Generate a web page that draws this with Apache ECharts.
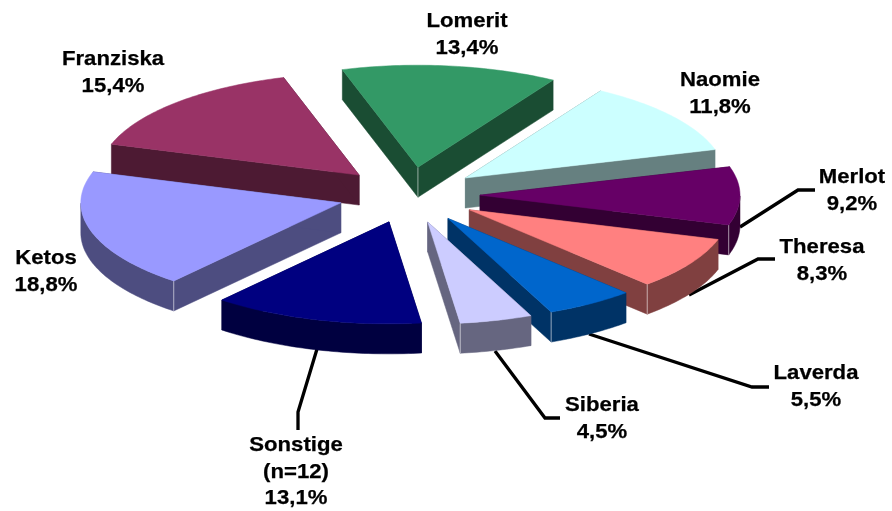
<!DOCTYPE html>
<html><head><meta charset="utf-8">
<style>html,body{margin:0;padding:0;background:#fff}#c{width:892px;height:511px}</style>
<script src="https://cdn.jsdelivr.net/npm/echarts@6/dist/echarts.min.js"></script>
</head><body><div id="c"></div>
<script>
const categories = ['Lomerit','Naomie','Merlot','Theresa','Laverda','Siberia','Sonstige\n(n=12)','Ketos','Franziska'];
const values = [13.4,11.8,9.2,8.3,5.5,4.5,13.1,18.8,15.4];
const topColors = ['#339966','#CCFFFF','#660066','#FF8080','#0066CC','#CCCCFF','#000080','#9999FF','#993366'];
const wallColors = ['#1A4D33','#668080','#330033','#804040','#003366','#666680','#000040','#4D4D80','#4D1A33'];
const drawOrder = [0,8,1,7,2,3,4,5,6];
const labelCenters = [[467,35],[720,94],[852,191],[822,261],[816,387],[602,419],[296,472],[46,272],[113,73]];
const leaders = [null,null,[[740,227],[798,190],[815,190]],[[689,295],[758,259],[775,259]],[[589,334],[752,387],[769,387]],[[495,351],[545,418],[560,418]],[[317,349],[298,412],[298,430]],null,null];

const view = {cx:409, cy:195, rx:260, ry:102, ex:71, ey:28, depth:30, start:-16.9};
const total = values.reduce((a,b)=>a+b,0);
const rad = d => d*Math.PI/180;
const starts = []; values.reduce((acc,v,i)=>{starts[i]=acc; return acc+v/total*360;}, view.start);

function renderSlice(params, api){
  const i = api.value(1);
  const a0 = starts[i], a1 = a0 + api.value(0)/total*360, m = (a0+a1)/2;
  const ax = view.cx + view.ex*Math.sin(rad(m)), ay = view.cy - view.ey*Math.cos(rad(m));
  const pt = t => [ax + view.rx*Math.sin(rad(t)), ay - view.ry*Math.cos(rad(t))];
  const d = view.depth, down = p => [p[0], p[1]+d];
  const arc = [];
  const steps = Math.max(8, Math.ceil(a1-a0));
  for(let k=0;k<=steps;k++) arc.push(pt(a0+(a1-a0)*k/steps));
  const p0 = arc[0], p1 = arc[arc.length-1], apex = [ax,ay];
  const poly = (points, fill, stroke) => ({type:'polygon', shape:{points}, style:{fill, stroke:stroke||fill, lineWidth:0.5}});
  const seam = p => ({type:'line', shape:{x1:p[0],y1:p[1],x2:p[0],y2:p[1]+d}, style:{stroke:'rgba(255,255,255,0.55)', lineWidth:1}});
  const children = [];
  if(leaders[i]) children.push({type:'polyline', shape:{points:leaders[i]}, style:{stroke:'#000', lineWidth:3.3, fill:null}});
  const wall = wallColors[i];
  children.push(poly([apex,p0,down(p0),down(apex)], wall));
  children.push(poly([apex,p1,down(p1),down(apex)], wall));
  const rimPts = arc.filter((p,k)=>{const t=a0+(a1-a0)*k/steps; return t>=90 && t<=270;});
  if(rimPts.length>1) children.push(poly(rimPts.concat(rimPts.map(down).reverse()), wall));
  if(a1<180 && a1>90) children.push(seam(p1));
  if(a0>180 && a0<270) children.push(seam(p0));
  if(a0<0 && a1>0) children.push(seam(apex));
  children.push(poly([apex].concat(arc), topColors[i]));
  const text = categories[i] + '\n' + values[i].toFixed(1).replace('.',',') + '%';
  children.push({type:'text', x:labelCenters[i][0], y:labelCenters[i][1], scaleX:1.08, z2:100,
    style:{text, font:'bold 20.5px "Liberation Sans", Arial, sans-serif', lineHeight:26.5, fill:'#000', stroke:'#000', lineWidth:0.25, align:'center', verticalAlign:'middle'}});
  return {type:'group', children};
}

const chart = echarts.init(document.getElementById('c'), null, {renderer:'canvas'});
chart.setOption({
  animation:false,
  backgroundColor:'#fff',
  series:[{type:'custom', coordinateSystem:'none', silent:true, clip:false,
    renderItem:renderSlice,
    data:drawOrder.map(i=>[values[i], i])}]
});
</script></body></html>
